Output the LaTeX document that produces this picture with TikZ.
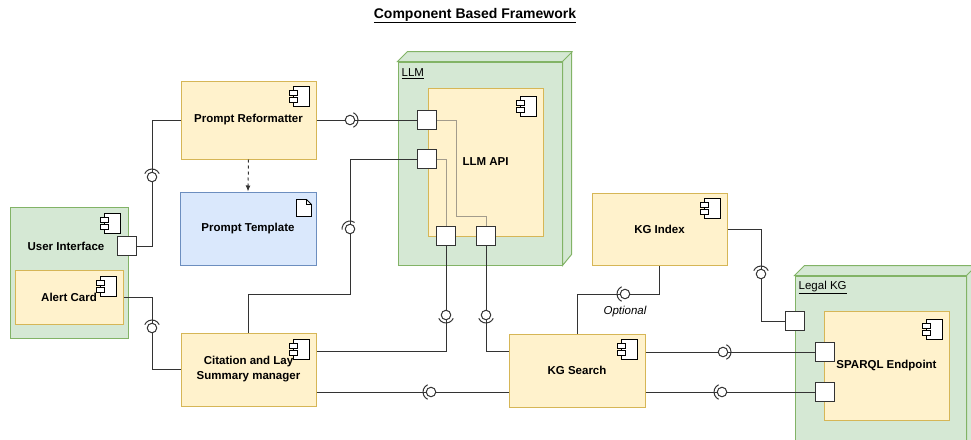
\documentclass[tikz,border=0pt]{standalone}
\usepackage{fontspec}
\setmainfont{Liberation Sans}
\usetikzlibrary{positioning,arrows.meta}
\definecolor{compFill}{HTML}{FFF2CC}
\definecolor{compDraw}{HTML}{D6B656}
\definecolor{nodeFill}{HTML}{D5E8D4}
\definecolor{nodeDraw}{HTML}{82B366}
\definecolor{tmplFill}{HTML}{DAE8FC}
\definecolor{tmplDraw}{HTML}{6C8EBF}
\definecolor{wire}{HTML}{333333}
\definecolor{innerWire}{HTML}{A39C8C}
\tikzset{%
  component/.style={rectangle, draw=compDraw, fill=compFill, line width=1pt, align=center,
    font=\bfseries\fontsize{11.5}{15}\selectfont},
  container/.style={rectangle, draw=nodeDraw, fill=nodeFill, line width=1pt},
  template/.style={rectangle, draw=tmplDraw, fill=tmplFill, line width=1pt,
    font=\bfseries\fontsize{11.5}{15}\selectfont},
  port/.style={rectangle, draw=wire, fill=white, line width=1pt, minimum size=19pt, inner sep=0pt},
  ball/.style={circle, draw=wire, fill=white, line width=1pt, minimum size=9.5pt, inner sep=0pt},
  sock/.style={draw=wire, line width=1pt},
  wire/.style={draw=wire, line width=1pt},
  innerwire/.style={draw=innerWire, line width=1pt},
  boldlabel/.style={font=\bfseries\fontsize{11.5}{15}\selectfont, inner sep=0pt},
  pkglabel/.style={font=\fontsize{11.5}{14}\selectfont, inner sep=0pt, anchor=base west},
  % icons
  compicon/.pic={
    \draw[line width=0.8pt, fill=white] (-16,0) rectangle (0,20);
    \draw[line width=0.8pt, fill=white] (-20,4) rectangle (-12,9);
    \draw[line width=0.8pt, fill=white] (-20,11) rectangle (-12,16);
  },
  docicon/.pic={
    \draw[line width=0.8pt, fill=white] (0,0) -- (10,0) -- (15,5) -- (15,17) -- (0,17) -- cycle;
    \draw[line width=0.8pt] (10,0) -- (10,5) -- (15,5);
  }
}
% socket arc round a ball node, opening towards the given angle
\newcommand{\sockarc}[2]{%
  \draw[sock] ([shift={(#2-65:8pt)}]#1.center) arc[start angle=#2-65, end angle=#2+65, radius=8pt];}

\begin{document}
\begin{tikzpicture}[x=1pt,y=-1pt]
    \useasboundingbox (0,0) rectangle (971,439);

    %Title
    \node[font=\bfseries\fontsize{14}{16}\selectfont, inner sep=0pt, anchor=base] (title) at (475,18) {\underline{Component Based Framework}};

    %Containers
    \node[container, minimum width=118pt, minimum height=131pt] (ui) at (69,272.5) {};
    \node[boldlabel] (uiLabel) at (66,246) {User Interface};
    \pic at ([shift={(-8,7)}]ui.north east) {compicon};
    \node[component, minimum width=108pt, minimum height=54pt] (alert) at (69,297) {Alert Card};
    \pic at ([shift={(-7,7)}]alert.north east) {compicon};
    \node[port] (uiPort) at (127,246) {};

    \node[container, minimum width=164pt, minimum height=203pt] (llm) at (480,163.5) {};
    \filldraw[fill=nodeFill, draw=nodeDraw, line width=1pt] (llm.north west) -- ++(10,-10) -- ++(164,0) -- ++(0,203) -- (llm.south east) -- (llm.north east) -- cycle;
    \draw[draw=nodeDraw, line width=1pt] (llm.north east) -- ++(10,-10);
    \node[pkglabel] (llmLabel) at ([shift={(4,15)}]llm.north west) {\underline{LLM}};
    \node[component, minimum width=115pt, minimum height=148pt] (llmApi) at (485.5,162) {LLM API};
    \pic at ([shift={(-7,9)}]llmApi.north east) {compicon};

    \node[container, minimum width=171pt, minimum height=194pt] (legalKg) at (880.5,373) {};
    \filldraw[fill=nodeFill, draw=nodeDraw, line width=1pt] (legalKg.north west) -- ++(10,-10) -- ++(171,0) -- ++(0,194) -- (legalKg.south east) -- (legalKg.north east) -- cycle;
    \draw[draw=nodeDraw, line width=1pt] (legalKg.north east) -- ++(10,-10);
    \node[pkglabel] (legalLabel) at ([shift={(4,14)}]legalKg.north west) {\underline{Legal KG}};
    \node[component, minimum width=125pt, minimum height=109pt] (sparql) at (886.5,365.5) {SPARQL Endpoint};
    \pic at ([shift={(-7,9)}]sparql.north east) {compicon};

    %Components
    \node[component, minimum width=135pt, minimum height=78pt] (reformatter) at (248.5,120) {Prompt Reformatter};
    \pic at ([shift={(-7,6)}]reformatter.north east) {compicon};
    \node[template, minimum width=136pt, minimum height=73pt] (template) at (248,228.5) {Prompt Template};
    \pic at ([shift={(-20,8)}]template.north east) {docicon};
    \node[component, minimum width=135pt, minimum height=73pt] (citation) at (248.5,369.5) {Citation and Lay\\Summary manager};
    \pic at ([shift={(-7,7)}]citation.north east) {compicon};
    \node[component, minimum width=136pt, minimum height=73pt] (kgSearch) at (577,370.5) {KG Search};
    \pic at ([shift={(-8,6)}]kgSearch.north east) {compicon};
    \node[component, minimum width=135pt, minimum height=72pt] (kgIndex) at (659.5,229) {KG Index};
    \pic at ([shift={(-7,6)}]kgIndex.north east) {compicon};

    %Ports
    \node[port] (apiIn) at (427,120) {};
    \node[port] (apiCite) at (427,159) {};
    \node[port] (apiOutA) at (446,236) {};
    \node[port] (apiOutB) at (486,236) {};
    \node[port] (kgPort) at (795,321) {};
    \node[port] (sparqlA) at (825,352) {};
    \node[port] (sparqlB) at (825,392) {};

    %Internal wires
    \draw[innerwire] (apiIn.east) -- ++(19,0) -- ++(0,96) -| (apiOutB.north);
    \draw[innerwire] (apiCite.east) -| (apiOutA.north);

    %Balls
    \node[ball] (ballUi) at (152,177) {};
    \node[ball] (ballLlm) at (350,120) {};
    \node[ball] (ballCite) at (350,229) {};
    \node[ball] (ballAlert) at (152,328) {};
    \node[ball] (ballOutA) at (446,315) {};
    \node[ball] (ballOutB) at (486,315) {};
    \node[ball] (ballSearch) at (431,392) {};
    \node[ball] (ballIndex) at (625,294) {};
    \node[ball] (ballKg) at (761,274) {};
    \node[ball] (ballSparqlA) at (723,352) {};
    \node[ball] (ballSparqlB) at (722,392) {};
    \node[font=\itshape\fontsize{11.5}{14}\selectfont, inner sep=0pt, anchor=base] (optLabel) at (625,314) {Optional};

    %Lines
    \draw[wire] (reformatter.west) -| (ballUi);
    \draw[wire] (ballUi) |- (uiPort.east);
    \draw[wire] (reformatter.east) -- (ballLlm);
    \draw[wire] (ballLlm) -- (apiIn.west);
    \draw[wire] (apiCite.west) -| (ballCite);
    \draw[wire] (ballCite) -- ++(0,65) -| (citation.north);
    \draw[wire] (alert.east) -| (ballAlert);
    \draw[wire] (ballAlert) |- (citation.west);
    \draw[wire] (apiOutA) -- (ballOutA);
    \draw[wire] (ballOutA) |- ([yshift=18pt]citation.east);
    \draw[wire] (apiOutB) -- (ballOutB);
    \draw[wire] (ballOutB) |- ([yshift=19.5pt]kgSearch.west);
    \draw[wire] (citation.east |- ballSearch) -- (ballSearch);
    \draw[wire] (ballSearch) -- (kgSearch.west |- ballSearch);
    \draw[wire] (kgSearch.north) |- (ballIndex);
    \draw[wire] (ballIndex) -| (kgIndex.south);
    \draw[wire] (kgIndex.east) -| (ballKg);
    \draw[wire] (ballKg) |- (kgPort.west);
    \draw[wire] (kgSearch.east |- ballSparqlA) -- (ballSparqlA);
    \draw[wire] (ballSparqlA) -- (sparqlA.west);
    \draw[wire] (kgSearch.east |- ballSparqlB) -- (ballSparqlB);
    \draw[wire] (ballSparqlB) -- (sparqlB.west);
    \draw[wire, -{Latex[length=6pt,width=5pt]}, dash pattern=on 3pt off 3pt] (reformatter.south) -- (template.north);

    %Sockets
    \sockarc{ballUi}{90}
    \sockarc{ballLlm}{0}
    \sockarc{ballCite}{120}
    \sockarc{ballAlert}{90}
    \sockarc{ballOutA}{270}
    \sockarc{ballOutB}{270}
    \sockarc{ballSearch}{180}
    \sockarc{ballIndex}{180}
    \sockarc{ballKg}{90}
    \sockarc{ballSparqlA}{0}
    \sockarc{ballSparqlB}{180}
\end{tikzpicture}
\end{document}
